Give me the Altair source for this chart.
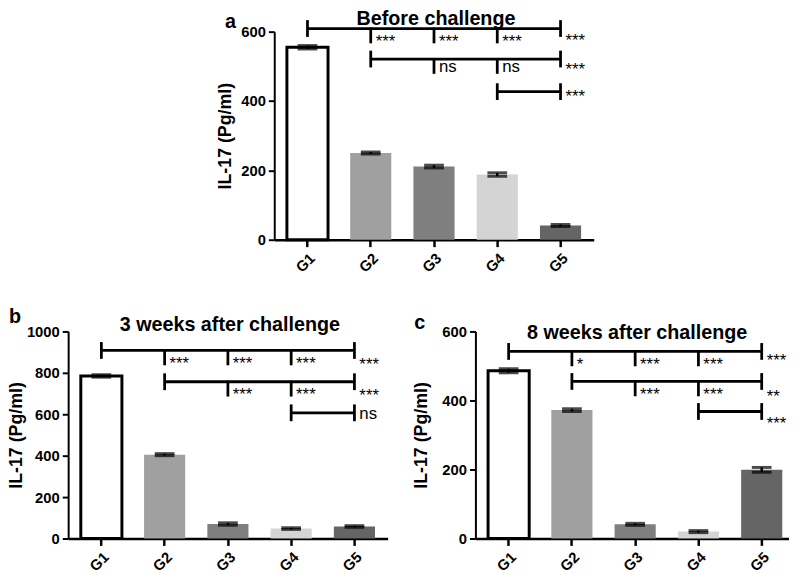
import altair as alt
import pandas as pd

groups = ["G1", "G2", "G3", "G4", "G5"]
fills = ["#ffffff", "#a0a0a0", "#7f7f7f", "#d4d4d4", "#656565"]

# Panel a: Before challenge
a_means = [555, 250, 211, 188, 41]
a_errs = [5, 3, 4, 5, 3]
a_starts = ["G1", "G2", "G4"]
a_levels = [609, 521, 427]
a_labels = [["***", "***", "***", "***"], ["ns", "ns", "***"], ["***"]]

# Panel b: 3 weeks after challenge
b_means = [785, 405, 70, 48, 58]
b_errs = [6, 5, 6, 4, 4]
b_starts = ["G1", "G2", "G4"]
b_levels = [908, 757, 607]
b_labels = [["***", "***", "***", "***"], ["***", "***", "***"], ["ns"]]

# Panel c: 8 weeks after challenge
c_means = [486, 372, 41, 20, 199]
c_errs = [6, 4, 3, 3, 7]
c_starts = ["G1", "G2", "G4"]
c_levels = [542, 455, 368]
c_labels = [["*", "***", "***", "***"], ["***", "***", "**"], ["***"]]

FONT = "Liberation Sans"
W = 324
LW = 2.8


def panel(letter, letter_pos, title, title_y, means, errs, ymax, ystep,
          starts, levels, labels, end_ink, height, title_pad, anchor=None):
    k = ymax / height
    df = pd.DataFrame({"group": groups, "mean": means,
                       "lo": [m - e for m, e in zip(means, errs)],
                       "hi": [m + e for m, e in zip(means, errs)]})
    xscale = alt.Scale(domain=groups, paddingInner=0.35, paddingOuter=0.2)
    yscale = alt.Scale(domain=[0, ymax], nice=False)
    xaxis = alt.Axis(title=None, labelAngle=-45, labelAlign="right", labelBaseline="top",
                     labelFontSize=15, labelFontWeight="bold", labelFont=FONT, labelColor="black",
                     tickSize=7, tickWidth=2.5, domainWidth=2.5, domainColor="black",
                     tickColor="black", labelPadding=4)
    yaxis = alt.Axis(title="IL-17 (Pg/ml)", values=list(range(0, ymax + 1, ystep)), format="d",
                     labelFontSize=15, labelFontWeight="bold", labelFont=FONT, labelColor="black",
                     titleFontSize=18, titleFontWeight="bold", titleFont=FONT, titleColor="black",
                     tickSize=6, tickWidth=2, domainWidth=2, domainColor="black",
                     tickColor="black", labelPadding=3, titlePadding=title_pad, grid=False)

    def X(f):
        return alt.X(f, scale=xscale, axis=xaxis)

    def Y(f):
        return alt.Y(f, scale=yscale, axis=yaxis)

    base = alt.Chart(df)
    bars = base.mark_bar(stroke="black").encode(
        x=X("group:N"), y=Y("mean:Q"),
        color=alt.Color("group:N", scale=alt.Scale(domain=groups, range=fills), legend=None),
        strokeWidth=alt.condition("datum.group == 'G1'", alt.value(3), alt.value(0)),
    )
    ebar = base.mark_rule(color="black", strokeWidth=2.5).encode(
        x=X("group:N"), y=Y("lo:Q"), y2="hi:Q")
    cap_hi = base.mark_tick(color="black", thickness=3, size=20).encode(
        x=X("group:N"), y=Y("hi:Q"))
    cap_lo = base.mark_tick(color="black", thickness=3, size=20).encode(
        x=X("group:N"), y=Y("lo:Q"))

    hrows, vrows, trows = [], [], []
    for s, L, labs, e in zip(starts, levels, labels, end_ink):
        hrows.append({"start": s, "end": "G5", "y": L})
        i0 = groups.index(s)
        vrows.append({"g": s, "y1": L + 8.5 * k, "y2": L - 8.5 * k})
        for j, lab in enumerate(labs):
            g = groups[i0 + 1 + j]
            if g == "G5":
                vrows.append({"g": g, "y1": L + 8.5 * k, "y2": L - 8.5 * k})
                ink = e
            else:
                vrows.append({"g": g, "y1": L + 1 * k, "y2": L - 15 * k})
                ink = 9.5
            corr = 4.0 if "*" in lab else -1.4
            trows.append({"g": g, "y": L - (ink + corr) * k, "t": lab})
    hl = alt.Chart(pd.DataFrame(hrows)).mark_rule(color="black", strokeWidth=LW).encode(
        x=X("start:N"), x2="end:N", y=Y("y:Q"))
    vl = alt.Chart(pd.DataFrame(vrows)).mark_rule(color="black", strokeWidth=LW).encode(
        x=X("g:N"), y=Y("y1:Q"), y2="y2:Q")
    tl = alt.Chart(pd.DataFrame(trows)).mark_text(
        align="left", baseline="middle", dx=5, fontSize=17, font=FONT, color="black").encode(
        x=X("g:N"), y=Y("y:Q"), text="t:N")
    one = pd.DataFrame({"t": [letter], "title": [title]})
    let = alt.Chart(one).mark_text(
        align="left", baseline="alphabetic", fontSize=20, fontWeight="bold", font=FONT,
        color="black").encode(x=alt.value(letter_pos[0]), y=alt.value(letter_pos[1]), text="t:N")
    ttl = alt.Chart(one).mark_text(
        align="center", baseline="alphabetic", fontSize=20, fontWeight="bold", font=FONT,
        color="black").encode(x=alt.value(W / 2 + 2), y=alt.value(title_y), text="title:N")
    layers = [bars, ebar, cap_hi, cap_lo, hl, vl, tl, let, ttl]
    if anchor is not None:
        # invisible point that fixes the outer bound of the layout
        layers.append(alt.Chart(one).mark_point(opacity=0, size=1).encode(
            x=alt.value(anchor[0]), y=alt.value(anchor[1])))
    return alt.layer(*layers).properties(width=W, height=height)


pa = panel("a", (-50, -4), "Before challenge", -7, a_means, a_errs, 600, 200,
           a_starts, a_levels, a_labels, [9, 7, 2], 211, 6, anchor=(0, -24))
pb = panel("b", (-60, -9), "3 weeks after challenge", 0, b_means, b_errs, 1000, 200,
           b_starts, b_levels, b_labels, [10.7, 10.6, 2.4], 210, 1, anchor=(-70, 0))
pc = panel("c", (-62, -2), "8 weeks after challenge", 8, c_means, c_errs, 600, 200,
           c_starts, c_levels, c_labels, [6, 11.5, 8.8], 210, 12)

spacer = alt.Chart(pd.DataFrame({"v": [0]})).mark_point(opacity=0, size=1).encode(
    x=alt.value(10), y=alt.value(5)).properties(width=209, height=10)

top = alt.hconcat(spacer, pa, spacing=0, bounds="flush")
bottom = alt.hconcat(pb, pc, spacing=89, bounds="flush")
chart = alt.vconcat(top, bottom, spacing=304, bounds="flush").properties(
    padding={"left": -10, "top": -5, "right": -6, "bottom": -4}
).configure(background="white").configure_view(stroke=None)

chart.save("out.html", embed_options={"renderer": "svg", "actions": False})
